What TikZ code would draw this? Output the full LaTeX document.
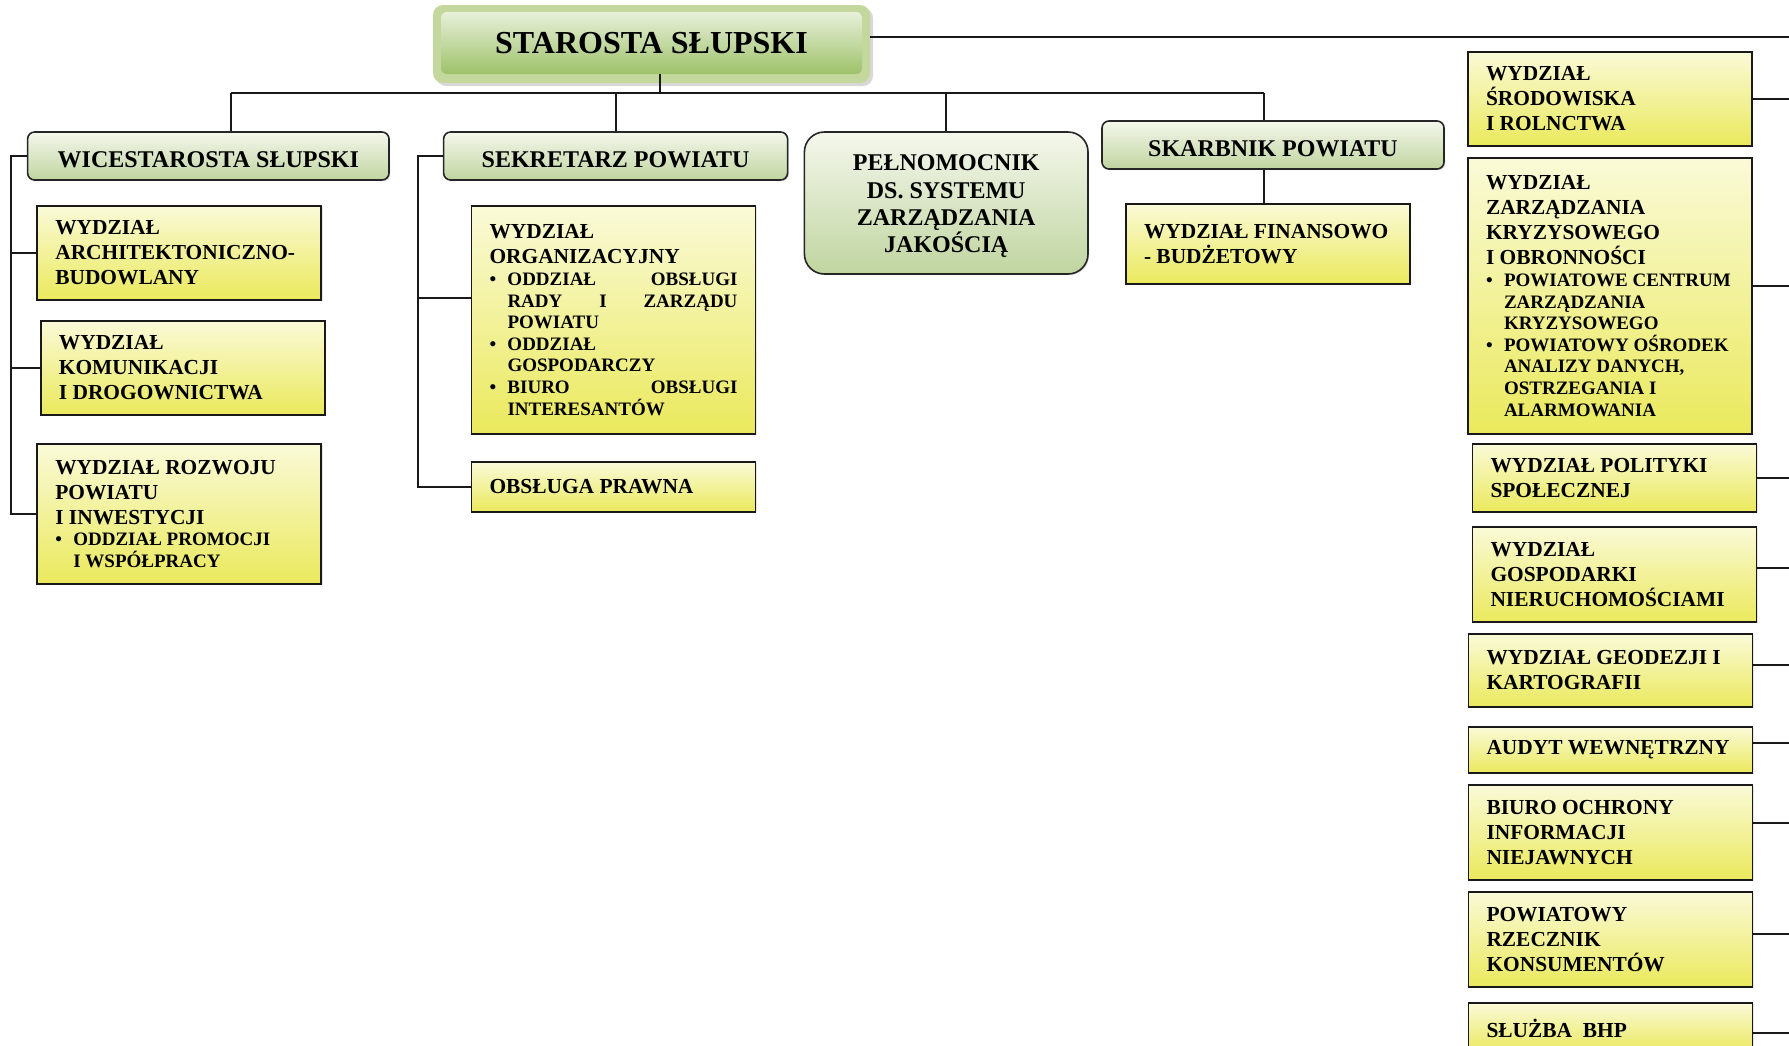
\documentclass[tikz,border=0pt]{standalone}
\usepackage{fontspec}
\setmainfont{Liberation Serif}
\usetikzlibrary{shadows}

\definecolor{ylwtop}{RGB}{250,250,216}
\definecolor{ylwbot}{RGB}{234,233,92}
\definecolor{hdrtop}{RGB}{244,247,236}
\definecolor{hdrbot}{RGB}{192,213,160}
\definecolor{frmgreen}{RGB}{196,215,156}
\definecolor{startop}{RGB}{232,240,218}
\definecolor{starbot}{RGB}{158,194,106}

\newcommand{\mainfnt}{\fontsize{10.7}{12.5}\selectfont\bfseries}
\newcommand{\hdrfnt}{\fontsize{12}{13.7}\selectfont\bfseries}
\newcommand{\starfnt}{\fontsize{16}{18}\selectfont\bfseries}
\newcommand{\bulfnt}{\fontsize{9.5}{10.8}\selectfont\bfseries}
\newcommand{\bul}[1]{\par{\bulfnt\hangindent=9pt\hangafter=1\noindent\makebox[9pt][l]{\textbullet}#1\par}}

\begin{document}
\begin{tikzpicture}[x=0.5pt, y=-0.5pt,
    hdr/.style={draw=black!85, line width=0.8pt, rounded corners=3.5pt, top color=hdrtop, bottom color=hdrbot, font=\hdrfnt, align=flush center, inner xsep=4pt, inner ysep=0pt, execute at begin node={\rule{0pt}{11.4pt}}, drop shadow={shadow xshift=0.6pt, shadow yshift=-0.6pt, fill=black!30}},
    dept/.style={draw=black!90, line width=0.9pt, top color=ylwtop, bottom color=ylwbot, font=\mainfnt, text width=124pt, inner xsep=9pt, inner ysep=0pt, align=flush left, drop shadow={shadow xshift=0.6pt, shadow yshift=-0.6pt, fill=black!20}},
    link/.style={draw=black!90, line width=1pt}
]
\useasboundingbox (0,0) rectangle (1789,1045);
\fill[white] (0,0) rectangle (1789,1045);

% starosta
\node[fill=frmgreen, rounded corners=5pt, minimum width=218.5pt, minimum height=39pt, drop shadow={shadow xshift=1.5pt, shadow yshift=-1.5pt, fill=black!30}] (starfrm) at (651.5,44) {};
\node[rounded corners=3pt, top color=startop, bottom color=starbot, minimum width=210.5pt, minimum height=31pt, font=\starfnt] (star) at (651.5,43) {STAROSTA SŁUPSKI};

% second level
\node[hdr, text width=172.7pt, minimum height=24pt] (wice) at (208.3,156) {WICESTAROSTA SŁUPSKI};
\node[hdr, text width=164pt, minimum height=24pt] (sekr) at (615.6,156) {SEKRETARZ POWIATU};
\node[hdr, rounded corners=10pt, text width=133.8pt, minimum height=71pt] (peln) at (946.2,203) {PEŁNOMOCNIK\\DS. SYSTEMU\\ZARZĄDZANIA\\JAKOŚCIĄ};
\node[hdr, text width=163pt, minimum height=24pt] (skarb) at (1273,145) {SKARBNIK POWIATU};

% wicestarosta
\node[dept, minimum height=47pt] (arch) at (179.3,253) {WYDZIAŁ\\ARCHITEKTONICZNO-\\BUDOWLANY};
\node[dept, minimum height=47pt] (kom) at (182.9,368) {WYDZIAŁ\\KOMUNIKACJI\\I DROGOWNICTWA};
\node[dept, minimum height=70pt] (roz) at (179.3,514) {WYDZIAŁ ROZWOJU\\POWIATU\\I INWESTYCJI\bul{ODDZIAŁ PROMOCJI\newline I WSPÓŁPRACY}};

% sekretarz
\node[dept, minimum height=114pt] (org) at (613.5,320) {WYDZIAŁ\\ORGANIZACYJNY\bul{ODDZIAŁ\hfill OBSŁUGI\newline RADY\hfill I\hfill ZARZĄDU\newline POWIATU}\bul{ODDZIAŁ\newline GOSPODARCZY}\bul{BIURO\hfill OBSŁUGI\newline INTERESANTÓW}};
\node[dept, minimum height=25pt] (prawna) at (613.5,487) {OBSŁUGA PRAWNA};

% skarbnik
\node[dept, minimum height=40pt] (fin) at (1268,244) {WYDZIAŁ FINANSOWO\\- BUDŻETOWY};

% starosta departments
\node[dept, minimum height=47pt] (srod) at (1610,98.9) {WYDZIAŁ\\ŚRODOWISKA\\I ROLNCTWA};
\node[dept, minimum height=138pt] (zarz) at (1610,296) {WYDZIAŁ\\ZARZĄDZANIA\\KRYZYSOWEGO\\I OBRONNOŚCI\bul{POWIATOWE CENTRUM\newline ZARZĄDZANIA\newline KRYZYSOWEGO}\bul{POWIATOWY OŚRODEK\newline ANALIZY DANYCH,\newline OSTRZEGANIA I\newline ALARMOWANIA}};
\node[dept, minimum height=34pt] (pol) at (1614.5,478) {WYDZIAŁ POLITYKI\\SPOŁECZNEJ};
\node[dept, minimum height=47.5pt] (gosp) at (1614.5,574.5) {WYDZIAŁ\\GOSPODARKI\\NIERUCHOMOŚCIAMI};
\node[dept, minimum height=36.5pt] (geod) at (1610.5,670.5) {WYDZIAŁ GEODEZJI I\\KARTOGRAFII};
\node[dept, minimum height=23pt] (audyt) at (1610.5,750) {AUDYT WEWNĘTRZNY};
\node[dept, minimum height=47.5pt] (biuro) at (1610.5,832.5) {BIURO OCHRONY\\INFORMACJI\\NIEJAWNYCH};
\node[dept, minimum height=47.5pt] (rzecz) at (1610.5,939.5) {POWIATOWY\\RZECZNIK\\KONSUMENTÓW};
\node[dept, minimum height=25pt] (bhp) at (1610.5,1028) {SŁUŻBA\ \ BHP};

% connectors
\coordinate (busL) at (231,93);
\coordinate (busM) at (660,93);
\coordinate (busR) at (1264,93);
\coordinate (wspine) at (11,0);
\coordinate (sspine) at (418,0);
\coordinate (rspine) at (1800,36.7);

\draw[link] (busM |- star.south) -- (busM);
\draw[link] (busL) -- (busR);
\draw[link] (busL) -- (busL |- wice.north);
\draw[link] (sekr.north) -- (sekr.north |- busL);
\draw[link] (peln.north) -- (peln.north |- busL);
\draw[link] (busR) -- (busR |- skarb.north);
\draw[link] (busR |- skarb.south) -- (busR |- fin.north);
\draw[link] (starfrm.east |- rspine) -- (rspine);

\draw[link] (wice.west) -| (wspine |- roz.west) -- (roz.west);
\draw[link] (wspine |- arch.west) -- (arch.west);
\draw[link] (wspine |- kom.west) -- (kom.west);

\coordinate (orgin) at ([yshift=11pt]org.west);
\draw[link] (sekr.west) -| (sspine |- prawna.west) -- (prawna.west);
\draw[link] (sspine |- orgin) -- (orgin);

\foreach \n/\s in {srod/0, zarz/5, pol/0, gosp/3.5, geod/3, audyt/3.5, biuro/5, rzecz/3, bhp/-2.5}{
  \coordinate (\n-r) at ([yshift=\s pt]\n.east);
  \draw[link] (\n-r) -- (\n-r -| rspine);
}
\end{tikzpicture}
\end{document}
